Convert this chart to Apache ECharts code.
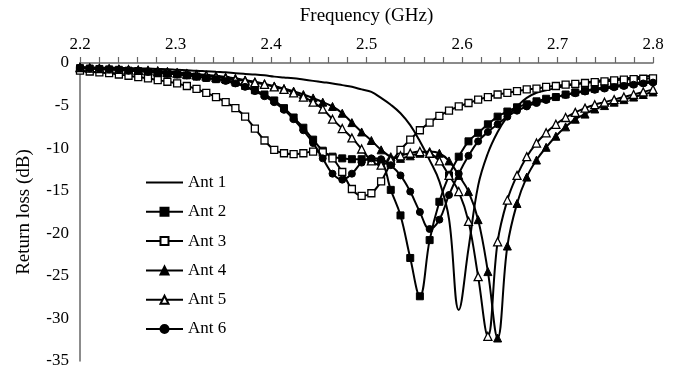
<!DOCTYPE html>
<html>
<head>
<meta charset="utf-8">
<script src="https://cdn.jsdelivr.net/npm/echarts@6/dist/echarts.min.js"></script>
<style>
  html, body { margin: 0; padding: 0; background: #fff; }
  #chart { width: 689px; height: 374px; }
</style>
</head>
<body>
<div id="chart"></div>
<script>
// Sweep frequencies (GHz), 60 points from 2.2 to 2.8
const freqs = [
  2.2000, 2.2102, 2.2203, 2.2305, 2.2407, 2.2508, 2.2610, 2.2712, 2.2814, 2.2915,
  2.3017, 2.3119, 2.3220, 2.3322, 2.3424, 2.3525, 2.3627, 2.3729, 2.3831, 2.3932,
  2.4034, 2.4136, 2.4237, 2.4339, 2.4441, 2.4542, 2.4644, 2.4746, 2.4847, 2.4949,
  2.5051, 2.5153, 2.5254, 2.5356, 2.5458, 2.5559, 2.5661, 2.5763, 2.5864, 2.5966,
  2.6068, 2.6169, 2.6271, 2.6373, 2.6475, 2.6576, 2.6678, 2.6780, 2.6881, 2.6983,
  2.7085, 2.7186, 2.7288, 2.7390, 2.7492, 2.7593, 2.7695, 2.7797, 2.7898, 2.8000
];

// Return loss (dB) of each antenna
const ant1 = [
  -0.5, -0.52, -0.54, -0.56, -0.58, -0.6, -0.63, -0.66, -0.7, -0.74,
  -0.8, -0.85, -0.9, -0.97, -1.04, -1.1, -1.2, -1.28, -1.35, -1.45,
  -1.6, -1.7, -1.8, -1.95, -2.1, -2.25, -2.4, -2.6, -2.8, -3.1,
  -3.4, -4.1, -4.9, -5.9, -7.3, -9.2, -11.4, -13.9, -18.3, -29.0,
  -21.8, -14.4, -10.6, -8.1, -6.3, -5.1, -4.1, -3.5, -3.2, -2.95,
  -2.7, -2.5, -2.3, -2.15, -2.0, -1.9, -1.8, -1.7, -1.6, -1.5
];
const ant2 = [
  -0.6, -0.65, -0.7, -0.75, -0.8, -0.9, -0.95, -1.05, -1.15, -1.25,
  -1.35, -1.45, -1.6, -1.75, -1.9, -2.0, -2.3, -2.7, -3.2, -3.7,
  -4.4, -5.3, -6.4, -7.6, -9.0, -10.3, -11.0, -11.2, -11.3, -11.3,
  -11.4, -11.6, -14.9, -17.9, -22.9, -27.4, -20.8, -16.3, -13.2, -11.0,
  -9.2, -8.2, -7.2, -6.3, -5.7, -5.2, -4.85, -4.5, -4.2, -4.0,
  -3.7, -3.45, -3.25, -3.05, -2.85, -2.7, -2.55, -2.4, -2.25, -2.1
];
const ant3 = [
  -0.9, -1.0, -1.1, -1.2, -1.35, -1.5, -1.65, -1.8, -2.0, -2.2,
  -2.4, -2.7, -3.05, -3.5, -4.0, -4.6, -5.3, -6.3, -7.7, -9.1,
  -10.2, -10.6, -10.7, -10.6, -10.4, -10.5, -11.2, -12.8, -14.8, -15.6,
  -15.3, -13.9, -11.8, -10.2, -9.0, -7.9, -7.0, -6.2, -5.6, -5.1,
  -4.7, -4.3, -4.0, -3.7, -3.5, -3.3, -3.1, -3.0, -2.8, -2.7,
  -2.55, -2.45, -2.35, -2.25, -2.15, -2.05, -1.95, -1.9, -1.85, -1.8
];
const ant4 = [
  -0.5, -0.55, -0.6, -0.65, -0.7, -0.75, -0.8, -0.85, -0.9, -1.0,
  -1.1, -1.2, -1.3, -1.4, -1.5, -1.65, -1.8, -2.0, -2.2, -2.45,
  -2.7, -3.0, -3.3, -3.7, -4.1, -4.6, -5.1, -5.9, -7.0, -8.1,
  -9.1, -10.2, -11.0, -11.2, -10.9, -10.6, -10.4, -10.6, -11.5, -13.2,
  -15.1, -18.4, -24.5, -32.3, -21.5, -16.5, -13.4, -11.4, -9.9, -8.6,
  -7.5, -6.6, -6.0, -5.4, -5.0, -4.6, -4.3, -4.0, -3.7, -3.4
];
const ant5 = [
  -0.55, -0.6, -0.65, -0.7, -0.75, -0.8, -0.85, -0.9, -1.0, -1.1,
  -1.2, -1.3, -1.4, -1.5, -1.65, -1.8, -1.95, -2.1, -2.3, -2.5,
  -2.8, -3.1, -3.5, -4.0, -4.6, -5.4, -6.6, -7.7, -8.8, -10.1,
  -11.5, -12.0, -11.4, -10.9, -10.6, -10.4, -10.6, -11.5, -13.2, -15.1,
  -18.6, -25.1, -32.1, -21.0, -16.1, -13.2, -11.0, -9.4, -8.2, -7.2,
  -6.4, -5.8, -5.3, -4.9, -4.6, -4.3, -4.0, -3.7, -3.4, -3.1
];
const ant6 = [
  -0.6, -0.65, -0.7, -0.75, -0.8, -0.9, -0.95, -1.05, -1.15, -1.25,
  -1.35, -1.45, -1.6, -1.75, -1.9, -2.1, -2.4, -2.8, -3.3, -3.9,
  -4.6, -5.5, -6.6, -7.9, -9.4, -11.2, -13.0, -13.7, -13.0, -11.7,
  -11.2, -11.3, -12.0, -13.2, -15.1, -17.5, -19.5, -18.4, -15.5, -13.0,
  -10.9, -9.2, -8.1, -7.2, -6.3, -5.6, -5.1, -4.7, -4.35, -4.0,
  -3.75, -3.55, -3.35, -3.15, -3.0, -2.85, -2.7, -2.55, -2.4, -2.3
];

const seriesNames = ['Ant 1', 'Ant 2', 'Ant 3', 'Ant 4', 'Ant 5', 'Ant 6'];
const seriesValues = [ant1, ant2, ant3, ant4, ant5, ant6];

// marker style per antenna: [symbol, filled]
const markerStyles = [
  ['none', true],
  ['rect', true],
  ['rect', false],
  ['triangle', true],
  ['triangle', false],
  ['circle', true]
];

const FONT = '"Liberation Serif", "Times New Roman", serif';
const AXIS_GREY = '#666666';

const series = seriesNames.map((name, i) => {
  const [sym, filled] = markerStyles[i];
  return {
    name,
    type: 'line',
    smooth: 0.4,
    data: freqs.map((f, k) => [f, seriesValues[i][k]]),
    symbol: sym,
    symbolSize: sym === 'triangle' ? 8 : 7,
    showSymbol: sym !== 'none',
    lineStyle: { color: '#000', width: 2 },
    itemStyle: filled
      ? { color: '#000', borderColor: '#000', borderWidth: 1 }
      : { color: '#fff', borderColor: '#000', borderWidth: 1.3 },
    emphasis: { disabled: true },
    z: 2 + i
  };
});

// legend entries; the plain line entry gets no marker
const legendData = seriesNames.map((name, i) =>
  markerStyles[i][0] === 'none'
    ? { name, itemStyle: { opacity: 0 } }
    : { name }
);

const chart = echarts.init(document.getElementById('chart'), null, { renderer: 'canvas' });
chart.setOption({
  animation: false,
  backgroundColor: '#fff',
  grid: { left: 80, top: 63, right: 36, bottom: 13, containLabel: false },
  xAxis: {
    type: 'value',
    position: 'top',
    min: 2.2,
    max: 2.8,
    interval: 0.1,
    name: 'Frequency (GHz)',
    nameLocation: 'middle',
    nameGap: 37,
    nameTextStyle: { fontFamily: FONT, fontSize: 19, color: '#000' },
    axisLine: { show: true, onZero: false, lineStyle: { color: AXIS_GREY, width: 1.5 } },
    axisTick: { show: true, length: 6, inside: false, lineStyle: { color: AXIS_GREY, width: 1.2 } },
    minorTick: { show: true, splitNumber: 5, length: 6, lineStyle: { color: AXIS_GREY, width: 1.2 } },
    splitLine: { show: false },
    axisLabel: {
      margin: 10,
      fontFamily: FONT, fontSize: 17, color: '#000',
      formatter: v => v.toFixed(1)
    }
  },
  yAxis: {
    type: 'value',
    min: -35,
    max: 0,
    interval: 5,
    name: 'Return loss (dB)',
    nameLocation: 'middle',
    nameRotate: 90,
    nameGap: 46,
    nameTextStyle: { fontFamily: FONT, fontSize: 19, color: '#000' },
    axisLine: { show: true, onZero: false, lineStyle: { color: AXIS_GREY, width: 1.5 } },
    axisTick: { show: false },
    splitLine: { show: false },
    axisLabel: { margin: 11, fontFamily: FONT, fontSize: 17, color: '#000' }
  },
  legend: {
    orient: 'vertical',
    left: 140,
    top: 169,
    itemWidth: 37,
    itemHeight: 10,
    itemGap: 12.3,
    textStyle: { fontFamily: FONT, fontSize: 17, color: '#000' },
    data: legendData
  },
  series
});
</script>
</body>
</html>
